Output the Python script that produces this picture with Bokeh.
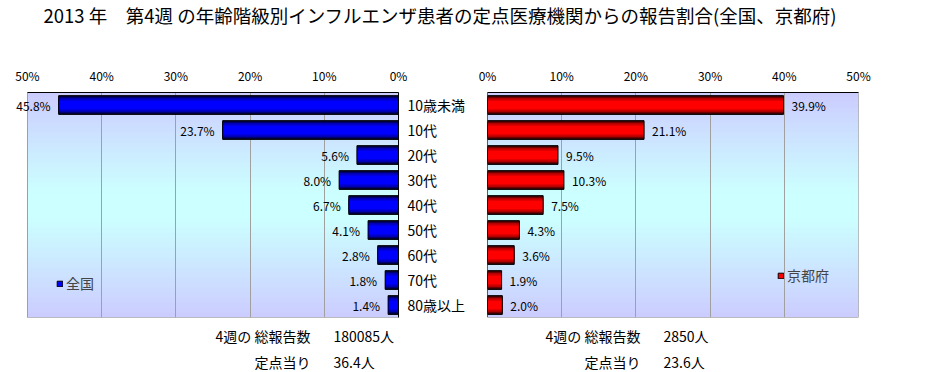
from bokeh.plotting import figure
from bokeh.layouts import column, row
from bokeh.models import (ColumnDataSource, FactorRange, Range1d, FixedTicker, Span,
                          PrintfTickFormatter, LabelSet, Label, Legend, LegendItem)
from bokeh.embed import file_html
from bokeh.resources import INLINE
from bokeh.core.properties import value

# ---------------- data ----------------
title_text = "2013 年　第4週 の年齢階級別インフルエンザ患者の定点医療機関からの報告割合(全国、京都府)"
categories = ["10歳未満", "10代", "20代", "30代", "40代", "50代", "60代", "70代", "80歳以上"]
national = [45.8, 23.7, 5.6, 8.0, 6.7, 4.1, 2.8, 1.8, 1.4]
kyoto = [39.9, 21.1, 9.5, 10.3, 7.5, 4.3, 3.6, 1.9, 2.0]
x_ticks = [0, 10, 20, 30, 40, 50]
x_max = 50
series_names = ["全国", "京都府"]
footer_labels = ["4週の 総報告数", "定点当り"]
national_footer = ["180085人", "36.4人"]
kyoto_footer = ["2850人", "23.6人"]

FONT = "Noto Sans CJK JP"
BLUE_LAYERS = [(0.75, "#000030"), (0.66, "#000070"), (0.56, "#0000b0"), (0.44, "#0000e0"), (0.32, "#0000ff")]
RED_LAYERS = [(0.75, "#300000"), (0.66, "#700000"), (0.56, "#b00000"), (0.44, "#e00000"), (0.32, "#ff0000")]


def add_background(p):
    n = 45
    nc = len(categories)
    bottoms, tops, colors = [], [], []
    for i in range(n):
        t = (i + 0.5) / n
        d = abs(t - 0.5) * 2
        d = max(0.0, (d - 0.12) / 0.88)
        g = round(255 - (255 - 204) * d)
        colors.append("#cc%02xff" % g)
        bottoms.append(nc * i / n)
        tops.append(min(float(nc), nc * (i + 1.6) / n))
    p.quad(left=0, right=x_max, bottom=bottoms, top=tops, fill_color=colors,
           line_color=None, level="image")
    # plot-area border
    p.quad(left=0, right=x_max, bottom=0, top=nc, fill_color=None,
           line_color="#808080", line_width=1, level="underlay")


def style(p):
    p.xaxis.ticker = FixedTicker(ticks=x_ticks)
    p.xaxis.formatter = PrintfTickFormatter(format="%d%%")
    p.xaxis.bounds = (0, x_max)
    p.xaxis.major_tick_in = 0
    p.xaxis.major_tick_out = 0
    p.xaxis.minor_tick_line_color = None
    p.xaxis.axis_line_color = "black"
    p.xaxis.major_label_text_font = FONT
    p.xaxis.major_label_text_font_size = "12px"
    p.xaxis.major_label_text_color = "black"
    p.xaxis.major_label_standoff = 9
    p.xgrid.grid_line_color = "#a0a0a0"
    p.ygrid.grid_line_color = None
    p.outline_line_color = None
    p.background_fill_color = "white"
    p.border_fill_color = "white"


def add_bars(p, src, layers):
    rends = []
    for h, c in layers:
        rends.append(p.hbar(y="cat", left=0, right="val", height=h, source=src,
                            fill_color=c, line_color=None))
    outline = p.hbar(y="cat", left=0, right="val", height=layers[0][0], source=src,
                     fill_color=None, line_color="black", line_width=1)
    return rends[-1], outline


def text_label(x, y, text, align, size="14px"):
    return Label(x=x, y=y, x_units="screen", y_units="screen", text=text,
                 text_align=align, text_baseline="middle",
                 text_font=FONT, text_font_size=size, text_color="black")


# ---------------- title ----------------
pt = figure(width=926, height=48, x_range=Range1d(0, 1), y_range=Range1d(0, 1),
            output_backend="svg", toolbar_location=None, min_border=0)
pt.axis.visible = False
pt.grid.visible = False
pt.outline_line_color = None
pt.add_layout(text_label(43, 34, title_text, "left", "18.5px"))

# ---------------- left: national ----------------
src_n = ColumnDataSource(dict(cat=categories, val=national,
                              lab=["%.1f%%" % v for v in national]))
p1 = figure(width=478, height=272, x_range=Range1d(52.02, 0),
            y_range=FactorRange(*categories[::-1]),
            x_axis_location="above", y_axis_location="right",
            output_backend="svg", toolbar_location=None,
            min_border_left=12, min_border_right=80, min_border_top=44, min_border_bottom=3)
add_background(p1)
style(p1)
p1.yaxis.major_tick_in = 0
p1.yaxis.major_tick_out = 0
p1.yaxis.minor_tick_line_color = None
p1.yaxis.axis_line_color = "black"
p1.yaxis.major_label_text_font = FONT
p1.yaxis.major_label_text_font_size = "14px"
p1.yaxis.major_label_text_color = "black"
p1.yaxis.major_label_standoff = 9
bright_n, outline_n = add_bars(p1, src_n, BLUE_LAYERS)
p1.add_layout(LabelSet(x="val", y="cat", text="lab", source=src_n, x_offset=-8,
                       text_align="right", text_baseline="middle",
                       text_font=value(FONT), text_font_size=value("12px"),
                       text_color="black"))
leg1 = Legend(items=[LegendItem(label=series_names[0], renderers=[bright_n, outline_n])],
              location=(44, 24), glyph_width=7, glyph_height=7, label_standoff=3,
              padding=0, margin=0, spacing=0, label_height=16,
              label_text_font=FONT, label_text_font_size="14px",
              border_line_color=None, background_fill_alpha=0)
p1.add_layout(leg1)

# ---------------- right: kyoto ----------------
src_k = ColumnDataSource(dict(cat=categories, val=kyoto,
                              lab=["%.1f%%" % v for v in kyoto]))
p2 = figure(width=448, height=272, x_range=Range1d(0, x_max),
            y_range=FactorRange(*categories[::-1]),
            x_axis_location="above", y_axis_location=None,
            output_backend="svg", toolbar_location=None,
            min_border_left=9, min_border_right=68, min_border_top=44, min_border_bottom=3)
add_background(p2)
style(p2)
p2.add_layout(Span(location=0, dimension="height", line_color="black", line_width=1))
bright_k, outline_k = add_bars(p2, src_k, RED_LAYERS)
p2.add_layout(LabelSet(x="val", y="cat", text="lab", source=src_k, x_offset=8,
                       text_align="left", text_baseline="middle",
                       text_font=value(FONT), text_font_size=value("12px"),
                       text_color="black"))
leg2 = Legend(items=[LegendItem(label=series_names[1], renderers=[bright_k, outline_k])],
              location=(290, 32), glyph_width=7, glyph_height=7, label_standoff=3,
              padding=0, margin=0, spacing=0, label_height=16,
              label_text_font=FONT, label_text_font_size="14px",
              border_line_color=None, background_fill_alpha=0)
p2.add_layout(leg2)

# ---------------- footer ----------------
pf = figure(width=926, height=52, x_range=Range1d(0, 1), y_range=Range1d(0, 1),
            output_backend="svg", toolbar_location=None, min_border=0)
pf.axis.visible = False
pf.grid.visible = False
pf.outline_line_color = None
for i, lab in enumerate(footer_labels):
    y = 37 - 26 * i
    pf.add_layout(text_label(310, y, lab, "right"))
    pf.add_layout(text_label(333, y, national_footer[i], "left"))
    pf.add_layout(text_label(640, y, lab, "right"))
    pf.add_layout(text_label(663, y, kyoto_footer[i], "left"))

layout = column(pt, row(p1, p2, spacing=0), pf, spacing=0)
open("out.html", "w").write(file_html(layout, INLINE))
